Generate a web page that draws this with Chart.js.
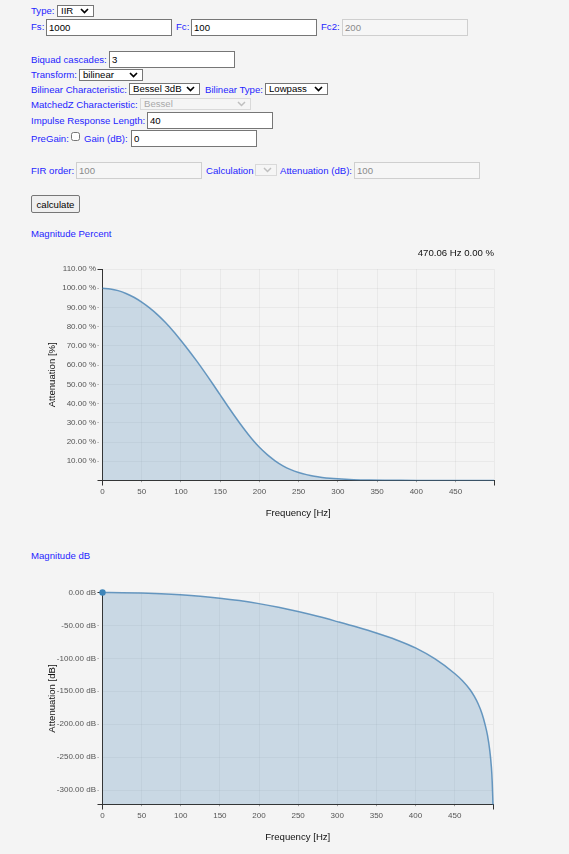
<!DOCTYPE html>
<html>
<head>
<meta charset="utf-8">
<title>IIR filter designer</title>
<script src="https://cdn.jsdelivr.net/npm/chart.js@4.4.1/dist/chart.umd.min.js"></script>
<style>
  html, body { margin: 0; padding: 0; background: #f4f4f4; }
  body { width: 569px; height: 854px; position: relative; overflow: hidden;
         font-family: "Liberation Sans", Arial, sans-serif; font-size: 9.6px; }
  .l { position: absolute; color: #1f1fff; line-height: 12px; white-space: nowrap; }
  input[type=text], select, button { position: absolute; box-sizing: border-box; margin: 0;
         font: 9.6px "Liberation Sans", Arial, sans-serif; color: #000; }
  input[type=text] { height: 17px; width: 126px; padding: 0 2px; background: #fff; border: 1px solid #767676; }
  select { appearance: none; -webkit-appearance: none; height: 12px; padding: 0 0 0 3px; line-height: 10px;
           border: 1px solid #767676; border-radius: 0; background-color: #fff;
           background-image: url("data:image/svg+xml;utf8,<svg xmlns='http://www.w3.org/2000/svg' width='9' height='6'><path d='M1 1l3.5 3.5L8 1' fill='none' stroke='black' stroke-width='1.7'/></svg>");
           background-repeat: no-repeat; background-position: right 4px center; }
  select:disabled { background-image: url("data:image/svg+xml;utf8,<svg xmlns='http://www.w3.org/2000/svg' width='9' height='6'><path d='M1 1l3.5 3.5L8 1' fill='none' stroke='%23aaa' stroke-width='1.5'/></svg>"); }
  input:disabled, select:disabled { border-color: #cfcfcf; background-color: #f6f6f6; color: #8a8a8a; }
  input[type=checkbox] { position: absolute; margin: 0; width: 9px; height: 9px; }
  button { border: 1px solid #767676; border-radius: 2px; background: #efefef; padding: 0; }
  .chart { position: absolute; left: 0; }
</style>
</head>
<body>

<span class="l" style="left:31px;top:5px">Type:</span>
<select style="left:57px;top:5px;width:37px"><option>IIR</option></select>

<span class="l" style="left:31px;top:21px">Fs:</span>
<input type="text" style="left:46px;top:19px" value="1000">
<span class="l" style="left:176px;top:21px">Fc:</span>
<input type="text" style="left:191px;top:19px" value="100">
<span class="l" style="left:321px;top:21px">Fc2:</span>
<input type="text" style="left:342px;top:19px" value="200" disabled>

<span class="l" style="left:31px;top:54px">Biquad cascades:</span>
<input type="text" style="left:109px;top:51px" value="3">

<span class="l" style="left:31px;top:69px">Transform:</span>
<select style="left:79px;top:69px;width:64px"><option>bilinear</option></select>

<span class="l" style="left:31px;top:84px">Bilinear Characteristic:</span>
<select style="left:129px;top:83px;width:71px"><option>Bessel 3dB</option></select>
<span class="l" style="left:205px;top:84px">Bilinear Type:</span>
<select style="left:265px;top:83px;width:63px"><option>Lowpass</option></select>

<span class="l" style="left:31px;top:99px">MatchedZ Characteristic:</span>
<select style="left:140px;top:98px;width:111px" disabled><option>Bessel</option></select>

<span class="l" style="left:31px;top:115px">Impulse Response Length:</span>
<input type="text" style="left:147px;top:112px" value="40">

<span class="l" style="left:31px;top:133px">PreGain:</span>
<input type="checkbox" style="left:71px;top:132px">
<span class="l" style="left:84px;top:133px">Gain (dB):</span>
<input type="text" style="left:131px;top:130px" value="0">

<span class="l" style="left:31px;top:165px">FIR order:</span>
<input type="text" style="left:76px;top:162px" value="100" disabled>
<span class="l" style="left:206px;top:165px">Calculation</span>
<select style="left:255px;top:164px;width:22px" disabled></select>
<span class="l" style="left:280px;top:165px">Attenuation (dB):</span>
<input type="text" style="left:354px;top:162px" value="100" disabled>

<button style="left:31px;top:195px;width:49px;height:18px">calculate</button>

<span class="l" style="left:31px;top:228px">Magnitude Percent</span>
<div class="chart" style="top:240px;width:497px;height:281px"><canvas id="percentChart"></canvas></div>

<span class="l" style="left:31px;top:550px">Magnitude dB</span>
<div class="chart" style="top:560px;width:497px;height:285px"><canvas id="dbChart"></canvas></div>

<script>
// magnitude in percent
var pctFreq = [0, 10, 20, 30, 40, 50, 60, 70, 80, 90, 100, 110, 120, 130, 140, 150, 160, 170, 180, 190,
    200, 210, 220, 230, 240, 250, 260, 270, 280, 290, 300, 320, 340, 360, 380, 400, 450, 499];
var pctValue = [100, 99.65, 98.75, 97.3, 95.3, 92.8, 89.8, 86.3, 82.3, 77.8, 72.85, 67.65, 62.2, 56.5, 50.6, 44.55, 38.5, 32.65, 27.05, 21.85,
    17.25, 13.45, 10.25, 7.65, 5.65, 4.15, 3.05, 2.2, 1.6, 1.15, 0.85, 0.45, 0.24, 0.13, 0.07, 0.04, 0.01, 0];

// magnitude in dB
var dbFreq = [0, 25, 50, 75, 100, 125, 150, 175, 200, 225, 250, 275, 300, 325, 350, 375, 400, 425, 450,
    460, 470, 475, 480, 485, 489, 492, 495, 497, 498, 499];
var dbValue = [0, -0.2, -0.8, -1.9, -3.5, -5.7, -8.6, -12.3, -16.9, -22.5, -29, -36.2, -44.2, -52.5, -61.5, -71.7, -84.2, -101, -123,
    -134, -148, -157.5, -169, -184, -201, -217, -241, -266, -287, -322];

var hoverText = '470.06 Hz 0.00 %';
var freqStep = 50;
var pctStep = 10;
var pctMax = 110;
var dbStep = 50;

Chart.defaults.font.family = '"Liberation Sans", Arial, sans-serif';

var lineColor = 'rgba(70, 130, 180, 0.8)';
var fillColor = 'rgba(70, 130, 180, 0.25)';

function isEdge(c) {
    return c.index === 0 || c.index === c.scale.ticks.length - 1;
}

var gridOpts = {
    color: 'rgba(0, 0, 0, 0.045)',
    tickColor: c => isEdge(c) ? '#333' : 'rgba(0, 0, 0, 0.35)',
    tickBorderDash: c => isEdge(c) ? [] : [1.2, 10],
    tickLength: 5
};

function freqAxis() {
    return {
        type: 'linear',
        bounds: 'data',
        z: 1,
        grid: gridOpts,
        border: { color: '#333', width: 1 },
        ticks: {
            stepSize: freqStep, autoSkip: false, maxRotation: 0, padding: 1,
            color: '#555', font: { size: 8 },
            callback: v => v % freqStep === 0 ? String(v) : ''
        },
        title: { display: true, text: 'Frequency [Hz]', color: '#111', font: { size: 9.6 }, padding: { top: 0, bottom: 1.2 } },
        afterFit: s => { s.height = 40; }
    };
}

function valueAxis(title, opts) {
    return Object.assign({
        type: 'linear',
        z: 1,
        grid: gridOpts,
        border: { color: '#333', width: 1 },
        title: { display: true, text: title, color: '#111', font: { size: 9.6 }, padding: { top: 46.2, bottom: 0 } },
        afterFit: s => { s.width = 102.5; }
    }, opts);
}

function toPoints(xs, ys) {
    return xs.map((x, i) => ({ x: x, y: ys[i] }));
}

new Chart(document.getElementById('percentChart'), {
    type: 'line',
    data: {
        datasets: [{
            data: toPoints(pctFreq, pctValue),
            borderColor: lineColor,
            backgroundColor: fillColor,
            borderWidth: 1.5,
            fill: 'origin',
            pointRadius: 0,
            cubicInterpolationMode: 'monotone'
        }]
    },
    options: {
        responsive: true,
        maintainAspectRatio: false,
        animation: false,
        events: [],
        layout: { padding: { left: 0, right: 3, top: 0, bottom: 0.5 } },
        plugins: {
            legend: { display: false },
            tooltip: { enabled: false },
            title: { display: true, text: hoverText, align: 'end', color: '#111',
                     font: { size: 9.6, weight: 'normal' }, padding: { top: 7.5, bottom: 10 } }
        },
        scales: {
            x: freqAxis(),
            y: valueAxis('Attenuation [%]', {
                min: 0,
                max: pctMax,
                ticks: {
                    stepSize: pctStep, autoSkip: false, padding: 1.5, color: '#555', font: { size: 8 },
                    callback: v => v === 0 ? '' : v.toFixed(2) + ' %'
                }
            })
        }
    }
});

new Chart(document.getElementById('dbChart'), {
    type: 'line',
    data: {
        datasets: [{
            data: toPoints(dbFreq, dbValue),
            borderColor: lineColor,
            backgroundColor: fillColor,
            borderWidth: 1.5,
            fill: 'start',
            clip: false,
            pointRadius: c => c.dataIndex === 0 ? 3.2 : 0,
            pointBackgroundColor: '#3d85b9',
            pointBorderWidth: 0,
            cubicInterpolationMode: 'monotone'
        }]
    },
    options: {
        responsive: true,
        maintainAspectRatio: false,
        animation: false,
        events: [],
        layout: { padding: { left: 0, right: 3, top: 32.5, bottom: 0.5 } },
        plugins: {
            legend: { display: false },
            tooltip: { enabled: false }
        },
        scales: {
            x: freqAxis(),
            y: valueAxis('Attenuation [dB]', {
                min: Math.min.apply(null, dbValue),
                max: 0,
                ticks: {
                    stepSize: dbStep, autoSkip: false, padding: 1.5, color: '#555', font: { size: 8 },
                    callback: v => v % dbStep === 0 ? v.toFixed(2) + ' dB' : ''
                }
            })
        }
    }
});
</script>
</body>
</html>
